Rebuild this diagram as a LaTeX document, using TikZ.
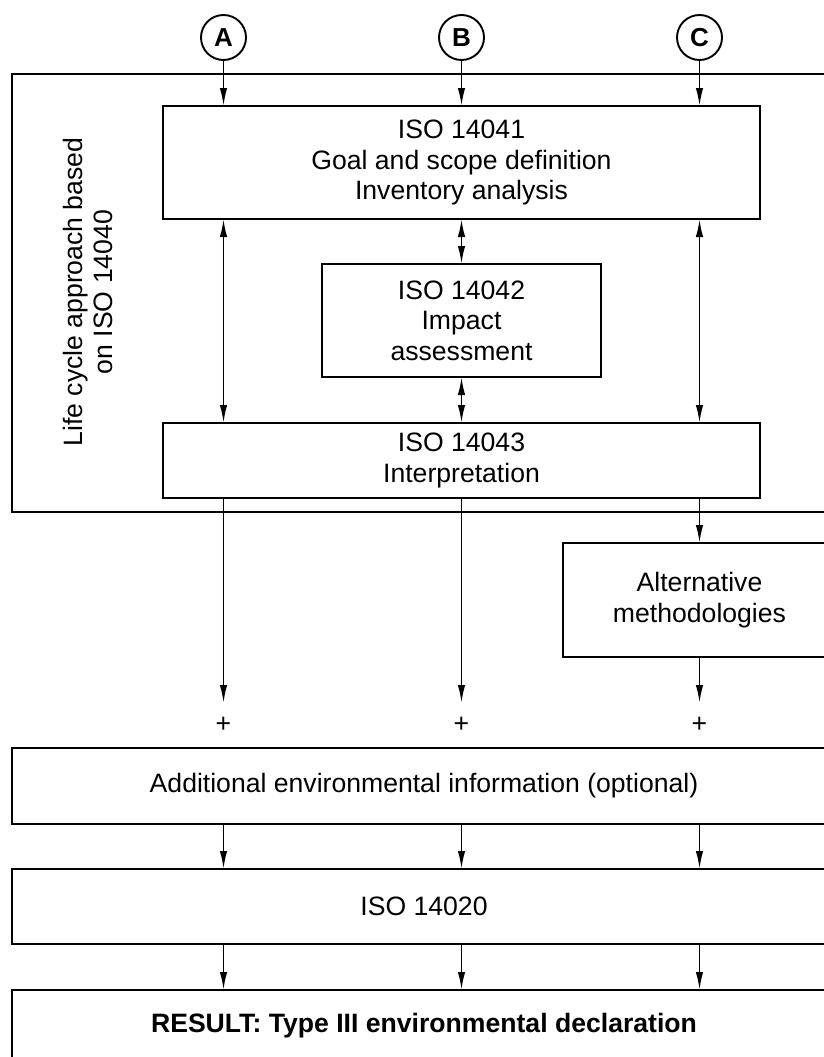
\documentclass[tikz,border=0pt]{standalone}
\usepackage{fontspec}
\setmainfont{Liberation Sans}
\usetikzlibrary{arrows.meta}
\tikzset{
  box/.style={draw, line width=2pt, inner sep=0pt, outer sep=0pt, align=center},
  arr/.style={line width=1.8pt, -{Latex[length=18pt,width=7.5pt]}},
  darr/.style={line width=1.8pt, {Latex[length=18pt,width=7.5pt]}-{Latex[length=18pt,width=7.5pt]}},
  circ/.style={draw, circle, line width=1.9pt, minimum size=45pt, inner sep=0pt, outer sep=0pt, font=\fontsize{26}{30}\selectfont\bfseries},
  plus/.style={inner sep=0pt}
}
\begin{document}
\begin{tikzpicture}[x=1pt,y=-1pt, every node/.style={font=\fontsize{26.6}{30.6}\selectfont}]
\useasboundingbox (0,0) rectangle (824,1057);
\clip (0,0) rectangle (824,1057);
% circles
\node[circ] (cA) at (223.5,37.5) {A};
\node[circ] (cB) at (461.5,37.5) {B};
\node[circ] (cC) at (699.5,37.5) {C};
% outer frame
\node[box, minimum width=824pt, minimum height=438pt] (outer) at (424,293) {};
\node[rotate=90, align=center] (lab) at (88,292) {Life cycle approach based\\on ISO 14040};
% inner boxes
\node[box, minimum width=597pt, minimum height=113pt] (i41) at (461.5,162.5) {ISO 14041\\Goal and scope definition\\Inventory analysis};
\node[box, minimum width=279pt, minimum height=113pt] (i42) at (461.5,320.5) {ISO 14042\\Impact\\assessment};
\node[box, minimum width=597pt, minimum height=75pt] (i43) at (461.5,460.5) {ISO 14043\\Interpretation};
\node[box, minimum width=274pt, minimum height=114pt] (alt) at (699.5,600) {Alternative\\methodologies};
% plus signs
\node[plus] (pA) at (223.5,725) {+};
\node[plus] (pB) at (461.5,725) {+};
\node[plus] (pC) at (699.5,725) {+};
\coordinate (eA) at (223.5,703);
\coordinate (eB) at (461.5,703);
\coordinate (eC) at (699.5,703);
% bottom boxes
\node[box, minimum width=824pt, minimum height=76pt] (add) at (424,786) {Additional environmental information (optional)};
\node[box, minimum width=824pt, minimum height=75pt] (i20) at (424,906.5) {ISO 14020};
\node[box, minimum width=824pt, minimum height=72pt] (res) at (424,1026) {\bfseries RESULT: Type III environmental declaration};
% arrows from circles
\draw[arr] (cA.south) -- (cA.south |- i41.north);
\draw[arr] (cB.south) -- (cB.south |- i41.north);
\draw[arr] (cC.south) -- (cC.south |- i41.north);
% double arrows
\draw[darr] (cA |- i41.south) -- (cA |- i43.north);
\draw[darr] (cC |- i41.south) -- (cC |- i43.north);
\draw[darr] (cB |- i41.south) -- (cB |- i42.north);
\draw[darr] (cB |- i42.south) -- (cB |- i43.north);
% from interpretation
\draw[arr] (cA |- i43.south) -- (eA);
\draw[arr] (cB |- i43.south) -- (eB);
\draw[arr] (cC |- i43.south) -- (cC |- alt.north);
\draw[arr] (cC |- alt.south) -- (eC);
% lower arrows
\foreach \c in {cA,cB,cC}{
  \draw[arr] (\c |- add.south) -- (\c |- i20.north);
  \draw[arr] (\c |- i20.south) -- (\c |- res.north);
}
\end{tikzpicture}
\end{document}
